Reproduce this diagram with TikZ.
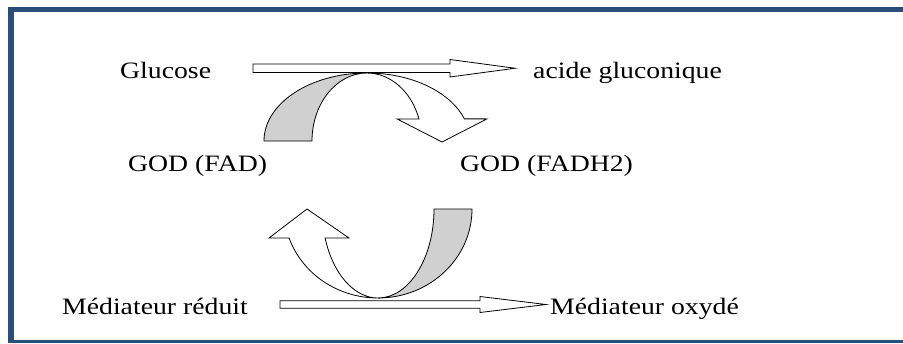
\documentclass[tikz,border=0pt]{standalone}
\usepackage{fontspec}
\setmainfont{Liberation Serif}[FakeStretch=1.18]
\definecolor{framebl}{RGB}{42,77,122}
\definecolor{ribbongray}{RGB}{208,208,208}
\begin{document}
\begin{tikzpicture}[x=1pt,y=1pt,
  lbl/.style={anchor=base west,inner sep=0pt,font=\fontsize{23.5}{28}\selectfont},
  shapeline/.style={draw=black,line width=0.8pt,line join=miter},
  grayband/.style={shapeline,fill=ribbongray},
  whiteband/.style={shapeline,fill=white}]
\useasboundingbox (0,0) rectangle (903,-343);
\fill[white] (0,0) rectangle (903,-343);
% frame
\fill[framebl] (8,-7) rectangle (903,-11.5);
\fill[framebl] (8,-7) rectangle (14,-343);
\fill[framebl] (8,-339.5) rectangle (903,-343);
% labels
\node[lbl] (glu) at (120,-78) {Glucose};
\node[lbl] (acg) at (533,-78) {acide gluconique};
\node[lbl] (fad) at (128,-171) {GOD (FAD)};
\node[lbl] (fadh) at (460,-171) {GOD (FADH2)};
\node[lbl] (medr) at (62,-314) {Médiateur réduit};
\node[lbl] (medo) at (550,-314) {Médiateur oxydé};
% top straight block arrow
\draw[whiteband] (253,-64) -- (450,-64) -- (450,-59.5) -- (515,-68.25) -- (450,-77) -- (450,-72.5) -- (253,-72.5) -- cycle;
% bottom straight block arrow
\draw[whiteband] (280,-300.7) -- (480,-300.7) -- (480,-296.5) -- (546,-304.5) -- (480,-312.5) -- (480,-308.3) -- (280,-308.3) -- cycle;
% top curved ribbon (center 367,-141)
\draw[grayband] (264,-141) arc[start angle=180,end angle=90,x radius=103pt,y radius=68pt]
  arc[start angle=90,end angle=180,x radius=55pt,y radius=68pt] -- cycle;
\draw[whiteband] (367,-73) arc[start angle=90,end angle=19,x radius=103pt,y radius=68pt]
  -- (487,-118.9) -- (442,-142) -- (397,-118.9) -- (419,-118.9)
  arc[start angle=19,end angle=90,x radius=55pt,y radius=68pt] -- cycle;
% bottom curved ribbon (center 378,-209)
\draw[grayband] (472,-209) arc[start angle=0,end angle=-90,x radius=94pt,y radius=89pt]
  arc[start angle=-90,end angle=0,x radius=56pt,y radius=89pt] -- cycle;
\draw[whiteband] (378,-298) arc[start angle=270,end angle=199,x radius=94pt,y radius=89pt]
  -- (269,-238) -- (307,-209) -- (349,-238) -- (325.1,-238)
  arc[start angle=199,end angle=270,x radius=56pt,y radius=89pt] -- cycle;
\end{tikzpicture}
\end{document}
